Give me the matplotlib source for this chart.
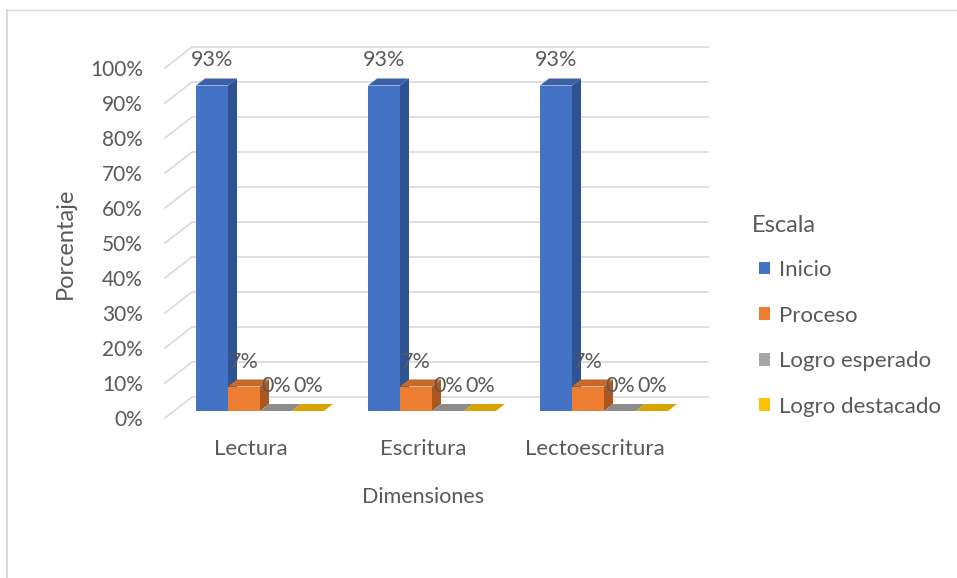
import matplotlib.pyplot as plt
from matplotlib.patches import Polygon, Patch
from matplotlib.lines import Line2D

plt.rcParams['font.family'] = ['Lato', 'DejaVu Sans']

categories = ['Lectura', 'Escritura', 'Lectoescritura']
series = ['Inicio', 'Proceso', 'Logro esperado', 'Logro destacado']
values = [
    [93, 93, 93],   # Inicio
    [7, 7, 7],      # Proceso
    [0, 0, 0],      # Logro esperado
    [0, 0, 0],      # Logro destacado
]
labels = ['93%', '7%', '0%', '0%']
yticks = list(range(0, 101, 10))

front = ['#4472C4', '#ED7D31', '#A5A5A5', '#FFC000']
top = ['#3A61A8', '#C7692A', '#8C8C8C', '#D9A300']
side = ['#2F5293', '#A9581F', '#7A7A7A', '#BF9000']
text_col = '#595959'
grid_col = '#D9D9D9'

# oblique projection: depth z in [0, 1] shifts right / up
DX = 27 / 172.0   # category units
DY = 6.0          # percent units
W = 0.186         # bar width
Z0, Z1 = 1 / 3, 2 / 3


def P(x, y, z):
    return (x + DX * z, y + DY * z)


fig = plt.figure(figsize=(9.57, 5.78), dpi=100)
ax = fig.add_axes([165 / 957, (578 - 418) / 578, (681 - 165) / 957, 350 / 578])
ax.set_xlim(-0.5, len(categories) - 0.5)
ax.set_ylim(0, 100)
for s in ax.spines.values():
    s.set_visible(False)

# gridlines: left diagonal + back wall
for v in yticks:
    pts = [P(-0.5, v, 0), P(-0.5, v, 1), P(len(categories) - 0.5, v, 1)]
    ax.plot([p[0] for p in pts], [p[1] for p in pts], color=grid_col,
            lw=1.2, clip_on=False, zorder=1)

for i in range(len(categories)):
    for j in range(len(series)):
        xl = i + (j - 2) * W
        xr = xl + W
        h = values[j][i]
        fr = [P(xl, 0, Z0), P(xr, 0, Z0), P(xr, h, Z0), P(xl, h, Z0)]
        tp = [P(xl, h, Z0), P(xr, h, Z0), P(xr, h, Z1), P(xl, h, Z1)]
        sd = [P(xr, 0, Z0), P(xr, 0, Z1), P(xr, h, Z1), P(xr, h, Z0)]
        for poly, c in ((sd, side[j]), (fr, front[j]), (tp, top[j])):
            ax.add_patch(Polygon(poly, closed=True, facecolor=c, edgecolor='none',
                                 clip_on=False, zorder=2 + j))
        cx, cy = P(xl + W / 2, h, Z0)
        ax.annotate(labels[j], (cx, cy), xytext=(0, 18), textcoords='offset points',
                    ha='center', va='center', fontsize=15.5, color=text_col,
                    zorder=10)

ax.set_yticks(yticks)
ax.set_yticklabels([f'{v}%' for v in yticks])
ax.set_xticks(range(len(categories)))
ax.set_xticklabels(categories)
ax.tick_params(axis='y', length=0, pad=16, labelsize=15, labelcolor=text_col)
ax.tick_params(axis='x', length=0, pad=15, labelsize=16, labelcolor=text_col)
ax.set_ylabel('Porcentaje', fontsize=17, color=text_col, labelpad=10)
ax.set_xlabel('Dimensiones', fontsize=15.5, color=text_col, labelpad=20)

handles = [Patch(facecolor=c, edgecolor='none') for c in front]
leg = fig.legend(handles, series, loc='upper left',
                 bbox_to_anchor=(759 / 957, 1 - 260 / 578), frameon=False,
                 fontsize=16, handlelength=0.5, handleheight=0.5,
                 handletextpad=0.4, labelspacing=1.15, borderaxespad=0,
                 borderpad=0, labelcolor=text_col)
fig.text(752 / 957, 1 - 226 / 578, 'Escala', fontsize=17, color=text_col,
         ha='left', va='center')

# chart area border (left and top only visible)
fig.add_artist(Line2D([7 / 957, 7 / 957], [0, 1 - 10 / 578], color=grid_col, lw=1.5))
fig.add_artist(Line2D([7 / 957, 1], [1 - 10 / 578, 1 - 10 / 578], color=grid_col, lw=1.0))

fig.savefig('out.png', dpi=100)
